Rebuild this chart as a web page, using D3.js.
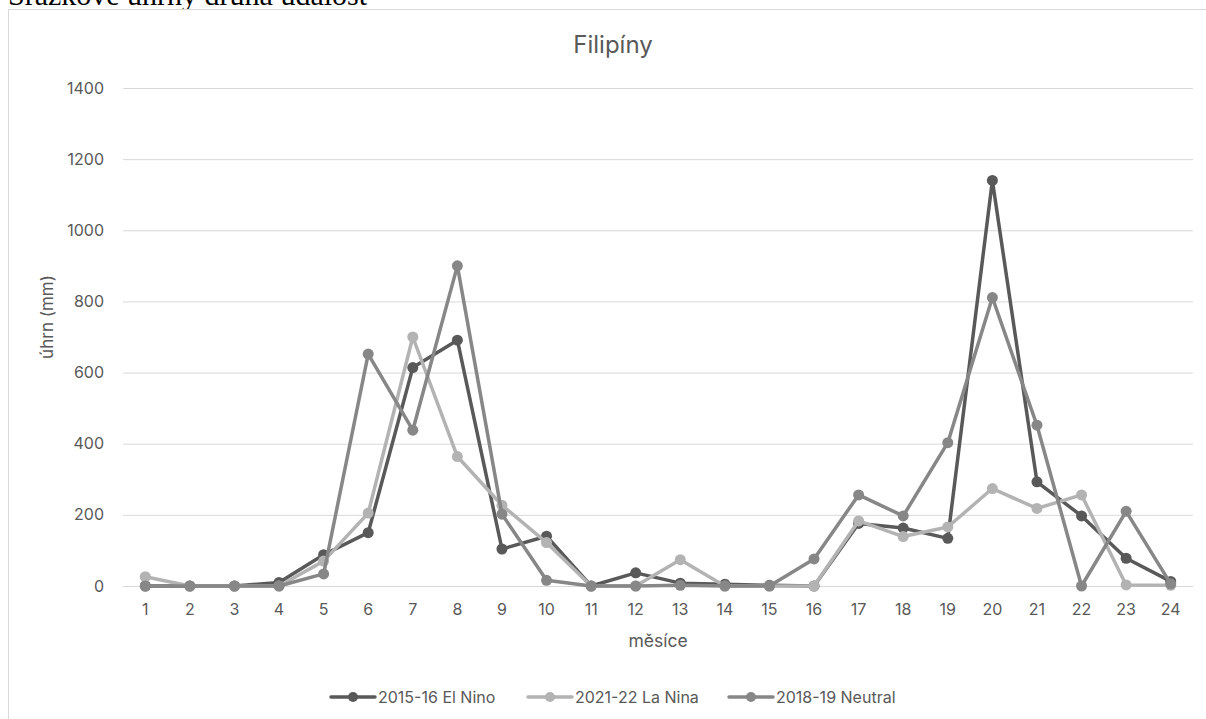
<!DOCTYPE html>
<html><head><meta charset="utf-8">
<script src="https://cdn.jsdelivr.net/npm/d3@7"></script>
<style>
html,body{margin:0;padding:0;background:#fff;overflow:hidden;}
svg{display:block;}
</style></head>
<body>
<svg id="c" width="1206" height="719"></svg>
<script>
const months = d3.range(1, 25);
const elNino = [0,0,0,10,88,150,614,691,104,140,0,37,8,5,2,0,176,163,134,1140,293,197,78,13];
const laNina = [26,0,0,0,70,205,700,364,227,122,0,0,74,0,0,0,183,139,166,274,218,256,3,2];
const neutral = [0,0,0,0,34,652,438,900,202,16,0,0,2,0,0,76,256,197,403,811,452,0,210,6];
const yTicks = [0,200,400,600,800,1000,1200,1400];
const seriesNames = ["2015-16 El Nino","2021-22 La Nina","2018-19 Neutral"];
const seriesColors = ["#595959","#b3b3b3","#878787"];
const seriesData = [elNino, laNina, neutral];

(function(){
const svg = d3.select("#c");
const font = "Inter, 'Open Sans', sans-serif";

// heading text of the document above the chart (clipped by the chart frame)
svg.append("text").attr("x", 8).attr("y", 5)
  .attr("font-family", "'Liberation Serif', serif").attr("font-size", 30)
  .attr("fill", "#000").text("Srážkové úhrny druhá událost");

// chart frame
svg.append("rect").attr("x", 8.5).attr("y", 9.5).attr("width", 1300).attr("height", 800)
  .attr("fill", "#fff").attr("stroke", "#d9d9d9").attr("stroke-width", 1);

const pLeft = 123, pRight = 1193, pTop = 88, pBottom = 586;
const x = d3.scaleBand().domain(months).range([pLeft, pRight]);
const y = d3.scaleLinear().domain([0, 1400]).range([pBottom, pTop]);
const cx = d => x(d) + x.bandwidth() / 2;

// gridlines
svg.append("g").selectAll("line").data(yTicks).join("line")
  .attr("x1", pLeft).attr("x2", pRight)
  .attr("y1", d => y(d) + 0.5).attr("y2", d => y(d) + 0.5)
  .attr("stroke", "#d9d9d9").attr("stroke-width", 1);

// y axis labels
const yAxis = d3.axisLeft(y).tickValues(yTicks).tickFormat(d3.format("d")).tickSize(0).tickPadding(0);
const gy = svg.append("g").attr("transform", `translate(${pLeft - 19},0)`).call(yAxis);
gy.select(".domain").remove();
gy.selectAll("text").attr("font-family", font).attr("font-size", 16).attr("fill", "#595959");

// x axis labels
const xAxis = d3.axisBottom(x).tickSize(0).tickPadding(0);
const gx = svg.append("g").attr("transform", `translate(0,${pBottom + 17.5})`).call(xAxis);
gx.select(".domain").remove();
gx.selectAll("text").attr("font-family", font).attr("font-size", 16).attr("fill", "#595959");

// titles
svg.append("text").attr("x", 613).attr("y", 53).attr("text-anchor", "middle")
  .attr("font-family", font).attr("font-size", 24).attr("fill", "#595959").text("Filipíny");
svg.append("text").attr("x", 658).attr("y", 647).attr("text-anchor", "middle")
  .attr("font-family", font).attr("font-size", 17.5).attr("fill", "#595959").text("měsíce");
svg.append("text").attr("transform", "translate(53,317) rotate(-90)").attr("text-anchor", "middle")
  .attr("font-family", font).attr("font-size", 17).attr("fill", "#595959").text("úhrn (mm)");

// series
const line = d3.line().x((d, i) => cx(months[i])).y(d => y(d));
seriesData.forEach((data, k) => {
  const g = svg.append("g");
  g.append("path").attr("d", line(data)).attr("fill", "none")
    .attr("stroke", seriesColors[k]).attr("stroke-width", 3.5).attr("stroke-linejoin", "round").attr("stroke-linecap", "round");
  g.selectAll("circle").data(data).join("circle")
    .attr("cx", (d, i) => cx(months[i])).attr("cy", d => y(d)).attr("r", 5.5)
    .attr("fill", seriesColors[k]);
});

// legend
const legendX = [331, 528, 729];
const lg = svg.append("g");
seriesNames.forEach((name, k) => {
  const gx0 = legendX[k], ly = 697;
  lg.append("line").attr("x1", gx0).attr("x2", gx0 + 44).attr("y1", ly).attr("y2", ly)
    .attr("stroke", seriesColors[k]).attr("stroke-width", 3.5).attr("stroke-linecap", "round");
  lg.append("circle").attr("cx", gx0 + 22).attr("cy", ly).attr("r", 5).attr("fill", seriesColors[k]);
  lg.append("text").attr("x", gx0 + 47).attr("y", ly + 6).attr("font-family", font).attr("font-size", 16)
    .attr("fill", "#595959").text(name);
});
})();
</script>
</body></html>
